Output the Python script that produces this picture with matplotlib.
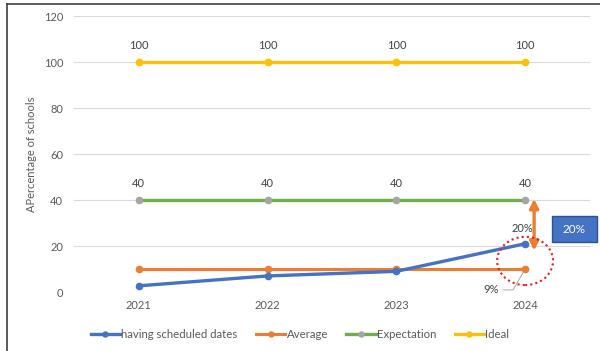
import matplotlib.pyplot as plt
from matplotlib.patches import Ellipse, Rectangle
from matplotlib.lines import Line2D

years = ['2021', '2022', '2023', '2024']
scheduled = [2.7, 7.0, 9.0, 21.0]
average = [10, 10, 10, 10]
expectation = [40, 40, 40, 40]
ideal = [100, 100, 100, 100]

blue = '#4472C4'
orange = '#ED7D31'
gray = '#A5A5A5'
green = '#70AD47'
yellow = '#FFC000'
txt = '#595959'

plt.rcParams['font.family'] = ['Lato', 'DejaVu Sans']

fig = plt.figure(figsize=(6, 3.51), dpi=100)
ax = fig.add_axes([0.124, 0.168, 0.8585, 0.786])
x = list(range(len(years)))

ax.plot(x, scheduled, color=blue, lw=2.4, marker='o', ms=4.5, label='having scheduled dates', zorder=4)
ax.plot(x, average, color=orange, lw=2.2, marker='o', ms=4.5, label='Average', zorder=3)
ax.plot(x, expectation, color=green, lw=2.4, marker='o', ms=4.5, mfc=gray, mec=gray, label='Expectation', zorder=3)
ax.plot(x, ideal, color=yellow, lw=2.4, marker='o', ms=4.5, label='Ideal', zorder=3)

for i in x:
    ax.annotate(str(ideal[i]), (i, ideal[i]), xytext=(0, 8), textcoords='offset points',
                ha='center', va='bottom', fontsize=8, color='#404040')
    ax.annotate(str(expectation[i]), (i, expectation[i]), xytext=(0, 8), textcoords='offset points',
                ha='center', va='bottom', fontsize=8, color='#404040')

ax.annotate('20%', (3, scheduled[3]), xytext=(-2, 7), textcoords='offset points',
            ha='center', va='bottom', fontsize=8, color='#404040')
ax.annotate('9%', (3, average[3]), xytext=(-19, -15), textcoords='offset points',
            ha='right', va='center', fontsize=8, color='#404040',
            arrowprops=dict(arrowstyle='-', color='#A6A6A6', lw=0.7, shrinkA=1, shrinkB=3,
                            connectionstyle='angle,angleA=0,angleB=60,rad=0'))

ax.add_patch(Ellipse((3, 13.5), 0.434, 21, fill=False, ec='#E02020', ls=(0, (1, 1.5)), lw=1.5,
                     zorder=5, clip_on=False))
ax.annotate('', xy=(3.07, 18), xytext=(3.07, 40.5),
            arrowprops=dict(arrowstyle='<|-|>', color=orange, lw=2.4, mutation_scale=13,
                            shrinkA=0, shrinkB=0), annotation_clip=False)
ax.add_patch(Rectangle((3.209, 21.7), 0.349, 11.3, fc=blue, ec='#2F528F', lw=1,
                       zorder=6, clip_on=False))
ax.text(3.383, 27.4, '20%', ha='center', va='center', fontsize=8.5, color='white', zorder=7,
        clip_on=False)

ax.set_xlim(-0.5, 3.5)
ax.set_ylim(0, 120)
ax.set_yticks(range(0, 121, 20))
ax.set_xticks(x)
ax.set_xticklabels(years)
ax.grid(axis='y', color='#D9D9D9', lw=0.8)
ax.set_axisbelow(True)
for s in ax.spines.values():
    s.set_visible(False)
ax.tick_params(axis='y', length=0, labelsize=8, colors=txt, pad=8)
ax.tick_params(axis='x', length=0, labelsize=8, colors=txt, pad=6)
ax.set_ylabel('APercentage of schools', fontsize=8, color=txt, labelpad=5)

ax.legend(loc='center', bbox_to_anchor=(0.438, -0.155), ncol=4, frameon=False,
          fontsize=8.2, labelcolor=txt, handlelength=2.6, handletextpad=0.1, columnspacing=1.6,
          markerscale=0.8)

fig.add_artist(Line2D([0.012, 0.012], [0, 0.99], color='#404040', lw=1.2))
fig.add_artist(Line2D([0.012, 1], [0.99, 0.99], color='#404040', lw=1.2))

fig.savefig('out.png', dpi=100)
